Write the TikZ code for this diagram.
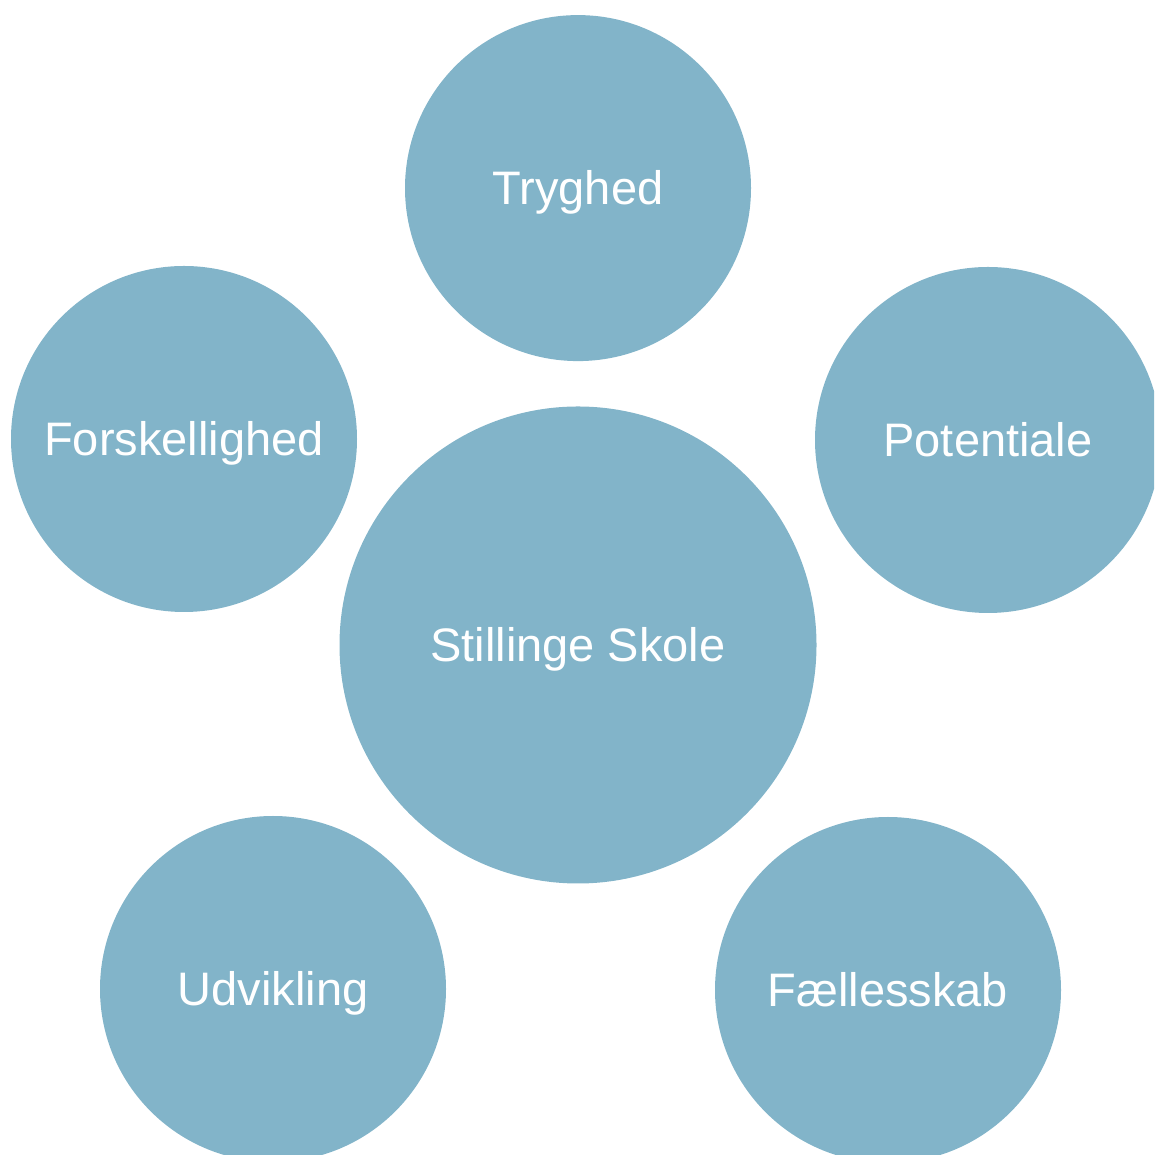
\documentclass[tikz,border=0pt]{standalone}
\usepackage{fontspec}
\setmainfont{Liberation Sans}
\usetikzlibrary{positioning}
\definecolor{bubble}{HTML}{82B4C9}

\begin{document}
\begin{tikzpicture}[x=1pt,y=1pt]
  \tikzset{
    value/.style={circle,fill=bubble,text=white,minimum size=346pt,inner sep=0pt,
      font=\fontsize{47}{50}\selectfont,text height=33.6pt,text depth=0pt},
    core/.style={value,minimum size=477pt},
  }
  \clip (0,0) rectangle (1154,1155);
  \node [core]  (skole)                        at (578,510) {Stillinge Skole};
  \node [value] (tryghed)  [above=45pt of skole]            {Tryghed};
  \node [value] (forskel)                      at (184,716) {Forskellighed};
  \node [value] (potential)                    at (988,715) {Potentiale};
  \node [value] (udvikling)                    at (273,166) {Udvikling};
  \node [value] (faelles)                      at (888,165) {Fællesskab};
\end{tikzpicture}
\end{document}
